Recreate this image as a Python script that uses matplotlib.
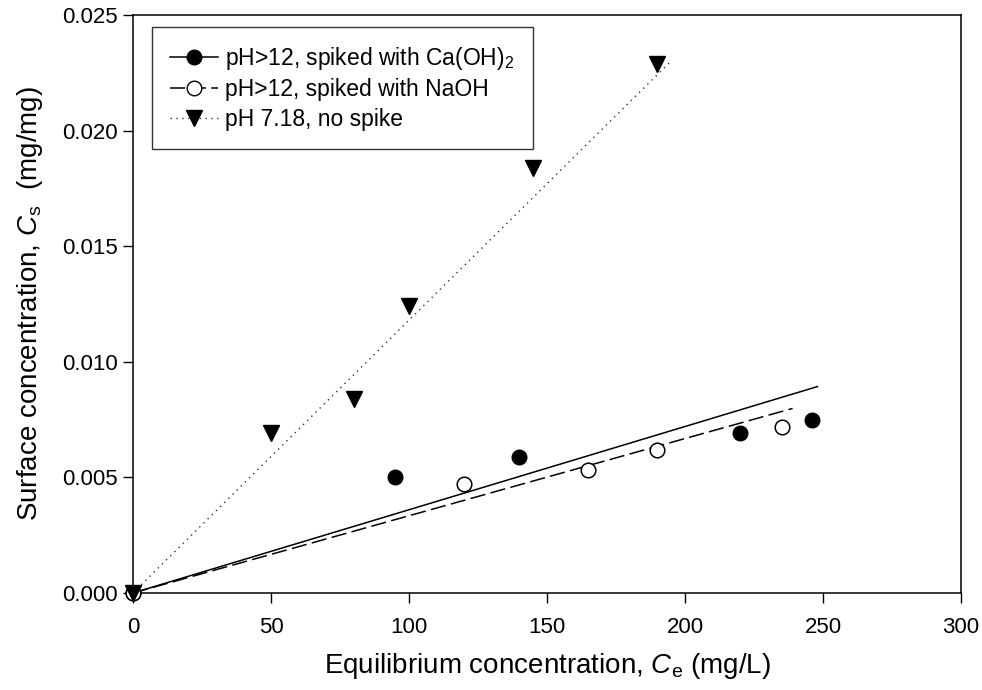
import matplotlib
matplotlib.use("Agg")
import matplotlib.pyplot as plt
from matplotlib.lines import Line2D

plt.rcParams['font.family'] = ['Liberation Sans', 'DejaVu Sans']
plt.rcParams['mathtext.fontset'] = 'custom'
plt.rcParams['mathtext.rm'] = 'Liberation Sans'
plt.rcParams['mathtext.it'] = 'Liberation Sans:italic'

# measured points
ca_x = [0, 95, 140, 220, 246]
ca_y = [0, 0.0050, 0.0059, 0.0069, 0.0075]
na_x = [0, 120, 165, 190, 235]
na_y = [0, 0.0047, 0.0053, 0.0062, 0.0072]
ph_x = [0, 50, 80, 100, 145, 190]
ph_y = [0, 0.0069, 0.0084, 0.0124, 0.0184, 0.0229]

# linear fits through origin (slope, last x)
ca_slope, ca_end = 3.6e-5, 248
na_slope, na_end = 3.34e-5, 239
ph_slope, ph_end = 1.18e-4, 195

labels = ['pH>12, spiked with Ca(OH)$_2$', 'pH>12, spiked with NaOH', 'pH 7.18, no spike']

dash = (0, (10, 3.5))
dot = (0, (1, 3.2))

fig = plt.figure(figsize=(9.82, 6.90), dpi=100)
ax = fig.add_axes([0.1354, 0.1406, 0.8432, 0.8377])

# fit lines
ax.plot([0, ca_end], [0, ca_slope * ca_end], color='black', lw=1.1, ls='-')
ax.plot([0, na_end], [0, na_slope * na_end], color='black', lw=1.1, ls=dash)
ax.plot([0, ph_end], [0, ph_slope * ph_end], color='#333333', lw=1.0, ls=dot)

# data points
ax.plot(ca_x, ca_y, 'o', color='black', ms=10.5, zorder=3, clip_on=False)
ax.plot(na_x, na_y, 'o', mfc='white', mec='black', mew=1.1, ms=10.5, zorder=3, clip_on=False)
ax.plot(ph_x, ph_y, 'v', color='black', ms=11, zorder=4, clip_on=False)

ax.set_xlim(0, 300)
ax.set_ylim(0, 0.025)
ax.set_xticks([0, 50, 100, 150, 200, 250, 300])
ax.set_yticks([0, 0.005, 0.010, 0.015, 0.020, 0.025])
ax.set_yticklabels(['0.000', '0.005', '0.010', '0.015', '0.020', '0.025'])
ax.tick_params(direction='out', length=7, width=1, labelsize=16, top=False, right=False)
ax.tick_params(axis='x', pad=10)
ax.tick_params(axis='y', pad=4)
for s in ax.spines.values():
    s.set_linewidth(1.1)

ax.set_xlabel(r'Equilibrium concentration, $\mathit{C}_\mathrm{e}$ (mg/L)', fontsize=20, labelpad=10)
ax.set_ylabel(r'Surface concentration, $\mathit{C}_\mathrm{s}$  (mg/mg)', fontsize=20, labelpad=12)

handles = [
    Line2D([], [], color='black', lw=1.1, ls='-', marker='o', ms=10.5),
    Line2D([], [], color='black', lw=1.1, ls=dash, marker='o', mfc='white', mec='black', ms=10.5),
    Line2D([], [], color='#333333', lw=1.0, ls=dot, marker='v', mfc='black', mec='black', ms=11),
]
leg = ax.legend(handles, labels, loc='upper left', bbox_to_anchor=(0.0226, 0.98),
                fontsize=16.5, frameon=True, fancybox=False, handlelength=2.1,
                handletextpad=0.3, labelspacing=0.28, borderpad=0.8, borderaxespad=0)
leg.get_frame().set_edgecolor('black')
leg.get_frame().set_linewidth(1.0)

plt.savefig('out.png', dpi=100)
